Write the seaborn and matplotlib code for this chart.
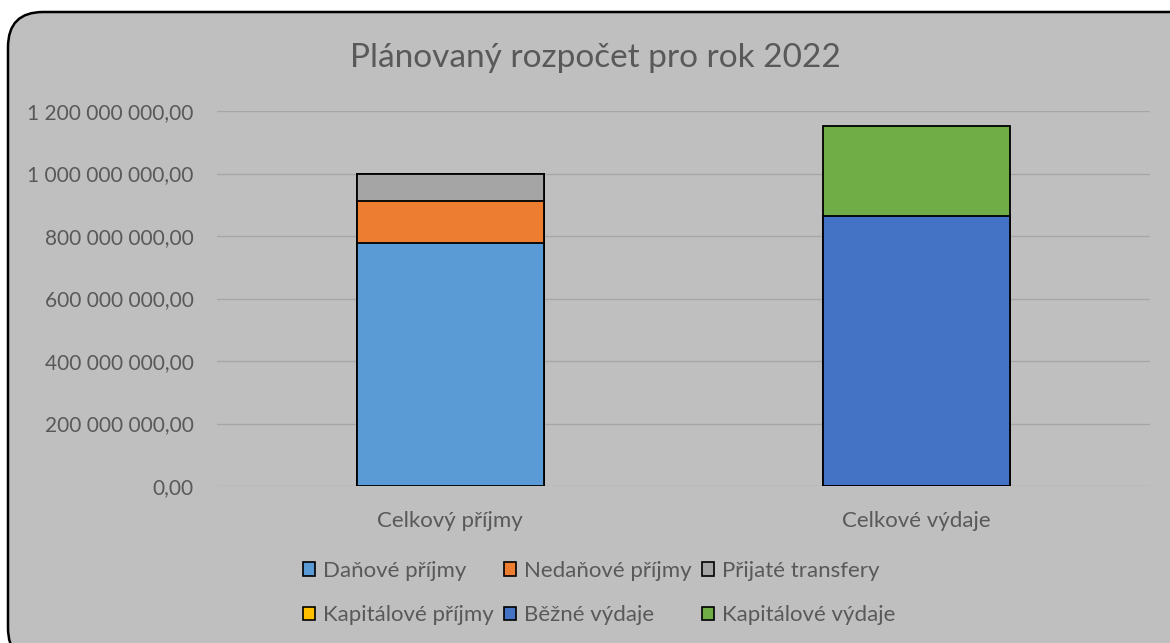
import matplotlib.pyplot as plt
import numpy as np
import pandas as pd
import seaborn as sns
from matplotlib.patches import FancyBboxPatch, Patch
from matplotlib.ticker import FuncFormatter

# data
categories = ["Celkový příjmy", "Celkové výdaje"]
series = ["Daňové příjmy", "Nedaňové příjmy", "Přijaté transfery",
          "Kapitálové příjmy", "Běžné výdaje", "Kapitálové výdaje"]
danove = [777e6, 0]
nedanove = [136e6, 0]
transfery = [87e6, 0]
kap_prijmy = [0, 0]
bezne = [0, 864e6]
kap_vydaje = [0, 289e6]
colors = ["#5B9BD5", "#ED7D31", "#A5A5A5", "#FFC000", "#4472C4", "#70AD47"]

values = [danove, nedanove, transfery, kap_prijmy, bezne, kap_vydaje]
cum = np.cumsum(np.array(values), axis=0)

sns.set_theme(style="white")
plt.rcParams["font.family"] = ["Lato", "DejaVu Sans"]
txt = "#595959"

fig = plt.figure(figsize=(11.7, 6.43), dpi=100)
fig.patch.set_facecolor("white")
W, H = 1170, 643
frame = FancyBboxPatch((8 / W, -20 / H), 1.2, (H - 12 + 20) / H,
                       boxstyle="round,pad=0,rounding_size=0.03",
                       transform=fig.transFigure, facecolor="#BFBFBF",
                       edgecolor="black", linewidth=1.8, zorder=-5,
                       mutation_aspect=W / H)
fig.patches.append(frame)

ax = fig.add_axes([217 / W, 1 - 486 / H, (1150 - 217) / W, (486 - 111) / H])
ax.set_zorder(2)
ax.set_facecolor("none")

# stacked bars: overlay cumulative totals, top layer first
for i in reversed(range(len(series))):
    df = pd.DataFrame({"cat": categories, "val": cum[i]})
    sns.barplot(data=df, x="cat", y="val", color=colors[i], saturation=1,
                width=0.4, edgecolor="black", linewidth=1.3, ax=ax, zorder=3)

ax.set_ylim(0, 1.2e9)
ax.set_xlim(-0.5, 1.5)
ax.set_yticks(np.arange(0, 1.2e9 + 1, 2e8))
ax.yaxis.set_major_formatter(FuncFormatter(
    lambda v, p: f"{v:,.2f}".replace(",", " ").replace(".", ",")))
ax.grid(axis="y", color="#A6A6A6", linewidth=1)
ax.set_axisbelow(True)
for s in ax.spines.values():
    s.set_visible(False)
ax.tick_params(axis="both", length=0, colors=txt)
ax.tick_params(axis="y", pad=17, labelsize=15)
ax.tick_params(axis="x", pad=18, labelsize=16)
ax.set_xlabel("")
ax.set_ylabel("")

fig.text(595 / W, 1 - 58 / H, "Plánovaný rozpočet pro rok 2022",
         ha="center", va="center", fontsize=24, color=txt)

# legend fills column-wise, so interleave to get Excel's row order
handles = [Patch(facecolor=c, edgecolor="black", linewidth=1.2) for c in colors]
order = [0, 3, 1, 4, 2, 5]
fig.legend([handles[i] for i in order], [series[i] for i in order],
           ncol=3, frameon=False, fontsize=16, labelcolor=txt,
           handlelength=0.55, handleheight=0.55, handletextpad=0.35,
           columnspacing=0.45, labelspacing=1.1, borderpad=0,
           loc="center", bbox_to_anchor=(599 / W, 1 - 593 / H))

fig.savefig("out.png", dpi=100)
